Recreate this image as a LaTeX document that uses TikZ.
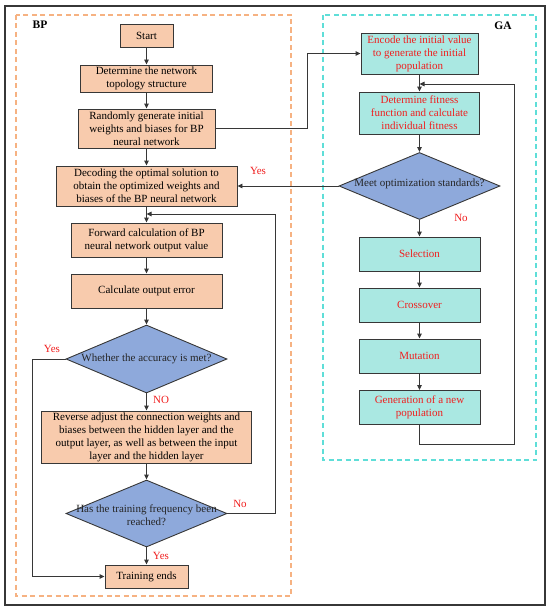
\documentclass[tikz,border=0pt]{standalone}
\usepackage{fontspec}
\setmainfont{Liberation Serif}
\usetikzlibrary{shapes.geometric,arrows.meta,calc}
\definecolor{bpfill}{RGB}{248,203,173}
\definecolor{gafill}{RGB}{170,232,226}
\definecolor{dfill}{RGB}{142,169,219}
\definecolor{bporange}{RGB}{246,178,130}
\definecolor{gacyan}{RGB}{95,222,216}
\definecolor{linec}{RGB}{55,55,55}
\definecolor{redt}{RGB}{240,30,30}
\begin{document}
\begin{tikzpicture}[x=1pt,y=-1pt,
  txt/.style={font=\fontsize{11}{13}\selectfont},
  box/.style={draw=linec, line width=0.9pt, fill=bpfill, align=center, txt, inner sep=0pt},
  gbox/.style={box, fill=gafill, text=redt},
  dia/.style={diamond, draw=linec, fill=dfill, line width=0.9pt, inner sep=0pt},
  lbl/.style={txt, text=redt, inner sep=0pt},
  conn/.style={draw=linec, line width=0.9pt},
  arr/.style={conn, -{Triangle[length=5pt,width=4.5pt]}},
  dbox/.style={line width=1.1pt, dash pattern=on 5pt off 3.5pt}
]
\useasboundingbox (0,0) rectangle (550,610);
% frames
\draw[draw=linec, line width=1.4pt] (5,6) rectangle (545,605);
\draw[dbox, draw=bporange] (16,15) rectangle (291,596);
\draw[dbox, draw=gacyan] (323,15) rectangle (536,460);
\node[txt, font=\fontsize{11.5}{13}\selectfont\bfseries] (bpl) at (40,25) {BP};
\node[txt, font=\fontsize{11.5}{13}\selectfont\bfseries] (gal) at (503,26) {GA};

% BP column
\node[box, minimum width=53pt, minimum height=23pt] (start) at (146.5,35.5) {Start};
\node[box, minimum width=132pt, minimum height=27pt] (topo) at (146.5,78.5) {Determine the network\\topology structure};
\node[box, minimum width=137pt, minimum height=39pt] (rand) at (146.5,128.5) {Randomly generate initial\\weights and biases for BP\\neural network};
\node[box, minimum width=181pt, minimum height=40pt] (dec) at (146.5,186) {Decoding the optimal solution to\\obtain the optimized weights and\\biases of the BP neural network};
\node[box, minimum width=151pt, minimum height=34pt] (fwd) at (146.5,240) {Forward calculation of BP\\neural network output value};
\node[box, minimum width=151pt, minimum height=34pt] (err) at (146.5,291) {Calculate output error};
\node[dia, minimum width=161pt, minimum height=68pt] (acc) at (146.5,359) {};
\node[txt, text=black!85] (acct) at (146.5,359) {Whether the accuracy is met?};
\node[box, minimum width=210pt, minimum height=52pt] (rev) at (146.5,437) {Reverse adjust the connection weights and\\biases between the hidden layer and the\\output layer, as well as between the input\\layer and the hidden layer};
\node[dia, minimum width=161pt, minimum height=67pt] (trn) at (146.5,513.5) {};
\node[txt, align=center, text=black!85] (trnt) at (146.5,515) {Has the training frequency been\\reached?};
\node[box, minimum width=83pt, minimum height=23pt] (fin) at (146.5,576.5) {Training ends};

% GA column
\node[gbox, minimum width=117pt, minimum height=41pt] (enc) at (419.5,53.5) {Encode the initial value\\to generate the initial\\population};
\node[gbox, minimum width=120pt, minimum height=42pt] (fit) at (419.5,113) {Determine fitness\\function and calculate\\individual fitness};
\node[dia, minimum width=161pt, minimum height=67pt] (meet) at (419.5,186) {};
\node[txt, text=black!85] (meett) at (419.5,184) {Meet optimization standards?};
\node[gbox, minimum width=121pt, minimum height=34pt] (sel) at (419.5,254) {Selection};
\node[gbox, minimum width=121pt, minimum height=34pt] (cro) at (419.5,305) {Crossover};
\node[gbox, minimum width=121pt, minimum height=34pt] (mut) at (419.5,356) {Mutation};
\node[gbox, minimum width=121pt, minimum height=34pt] (gen) at (419.5,407.5) {Generation of a new\\population};

% helper coordinates
\coordinate (j1) at (146.5,214);
\coordinate (j2) at (419.5,84);
\coordinate (c1) at (307,128.5);
\coordinate (c2) at (32,359);
\coordinate (c3) at (275,513.5);
\coordinate (c4) at (514,444);

% BP arrows
\draw[arr] (start) -- (topo);
\draw[arr] (topo) -- (rand);
\draw[arr] (rand) -- (dec);
\draw[arr] (dec) -- (fwd);
\draw[arr] (fwd) -- (err);
\draw[arr] (err) -- (acc);
\draw[arr] (acc) -- (rev);
\draw[arr] (rev) -- (trn);
\draw[arr] (trn) -- (fin);
\draw[arr] (acc.west) -- (c2) |- (fin.west);
\draw[arr] (trn.east) -- (c3) |- (j1);

% cross links
\draw[arr] (rand.east) -- (c1) |- (enc.west);
\draw[arr] (meet.west) -- (dec.east);

% GA arrows
\draw[arr] (enc) -- (fit);
\draw[arr] (fit) -- (meet);
\draw[arr] (meet) -- (sel);
\draw[arr] (sel) -- (cro);
\draw[arr] (cro) -- (mut);
\draw[arr] (mut) -- (gen);
\draw[arr] (gen.south) |- (c4) |- (j2);

% labels
\node[lbl] (y1) at (258,171) {Yes};
\node[lbl] (y2) at (52,349) {Yes};
\node[lbl] (n1) at (161,400) {NO};
\node[lbl] (n2) at (240,504) {No};
\node[lbl] (y3) at (161,556) {Yes};
\node[lbl] (n3) at (461,218) {No};
\end{tikzpicture}
\end{document}
